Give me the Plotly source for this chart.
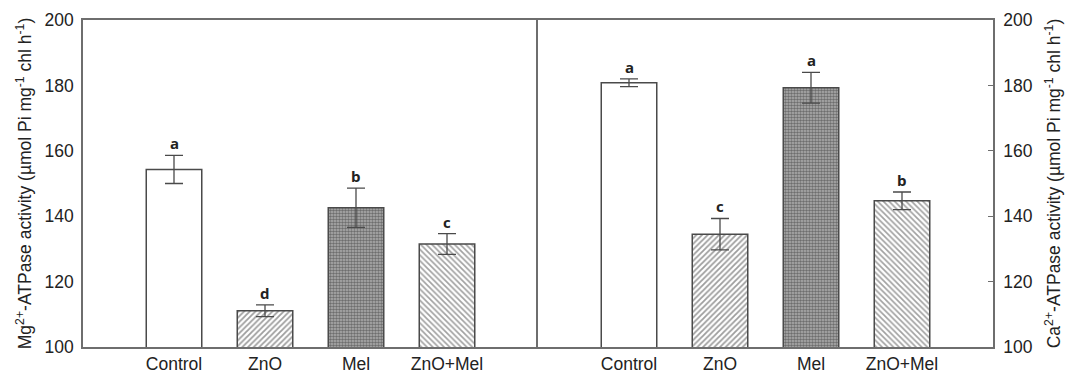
import plotly.graph_objects as go

categories = ["Control", "ZnO", "Mel", "ZnO+Mel"]
mg_values = [154.3, 111.1, 142.6, 131.5]
mg_errors = [4.3, 1.8, 6.0, 3.2]
mg_letters = ["a", "d", "b", "c"]
ca_values = [180.8, 134.5, 179.3, 144.7]
ca_errors = [1.2, 4.8, 4.7, 2.7]
ca_letters = ["a", "c", "a", "b"]
y_ticks = [100, 120, 140, 160, 180, 200]

pattern_shapes = ["", "/", ".", "\\"]
pattern_fg = ["#ffffff", "#3c3c3c", "#2b2b2b", "#444444"]
pattern_bg = ["#ffffff", "#ffffff", "#b0b0b0", "#ffffff"]
pattern_size = [6, 4, 3, 4]
pattern_solidity = [0.2, 0.45, 0.55, 0.42]

LINE = "#6e6e6e"
TXT = "#222222"
FONT = "Liberation Sans, Arial, sans-serif"

fig = go.Figure()

def add_panel(values, errors, xa, ya):
    fig.add_trace(go.Bar(
        x=categories, y=values, xaxis=xa, yaxis=ya, width=0.61,
        base=0,
        marker=dict(
            color="#ffffff",
            line=dict(color="#4a4a4a", width=1.5),
            pattern=dict(shape=pattern_shapes, fgcolor=pattern_fg, bgcolor=pattern_bg,
                         size=pattern_size, solidity=pattern_solidity, fillmode="overlay"),
        ),
        error_y=dict(type="data", array=errors, visible=True, color="#4a4a4a",
                     thickness=1.3, width=9),
        showlegend=False,
    ))

add_panel(mg_values, mg_errors, "x", "y")
add_panel(ca_values, ca_errors, "x2", "y2")

annotations = []
for xa, ya, vals, errs, letters in [("x", "y", mg_values, mg_errors, mg_letters),
                                    ("x2", "y2", ca_values, ca_errors, ca_letters)]:
    for c, v, e, l in zip(categories, vals, errs, letters):
        annotations.append(dict(x=c, y=v + e, xref=xa, yref=ya, text="<b>%s</b>" % l,
                                showarrow=False, yanchor="bottom", yshift=0,
                                font=dict(family="Open Sans, sans-serif", size=15, color=TXT)))

axis_common = dict(showline=True, linecolor=LINE, linewidth=1.6,
                   showgrid=False, zeroline=False, automargin=False)

fig.update_layout(
    width=1067, height=374,
    margin=dict(l=83, r=74, t=20, b=27),
    paper_bgcolor="white", plot_bgcolor="white",
    font=dict(family=FONT, size=17.5, color=TXT),
    annotations=annotations,
    xaxis=dict(domain=[0, 0.5], anchor="y", type="category", range=[-1, 4], mirror=True,
               ticks="", tickfont=dict(size=17.5), **axis_common),
    xaxis2=dict(domain=[0.5, 1], anchor="y2", type="category", range=[-1, 4], mirror=True,
                ticks="", tickfont=dict(size=17.5), **axis_common),
    yaxis=dict(domain=[0, 1], anchor="x", range=[100, 200], tickvals=y_ticks, mirror=False,
               ticks="", ticklabelstandoff=4,
               title=dict(text="Mg<sup>2+</sup>-ATPase activity (µmol Pi mg<sup>-1</sup> chl h<sup>-1</sup>)",
                          font=dict(size=17.5), standoff=8),
               **axis_common),
    yaxis2=dict(domain=[0, 1], anchor="x2", side="right", range=[100, 200], tickvals=y_ticks,
                mirror=True, ticks="inside", ticklen=5, tickcolor=LINE, ticklabelstandoff=5,
                title=dict(text="Ca<sup>2+</sup>-ATPase activity (µmol Pi mg<sup>-1</sup> chl h<sup>-1</sup>)",
                           font=dict(size=17.5), standoff=16),
                **axis_common),
)

fig.write_html("out.html", config={"displayModeBar": False},
               post_script="document.body.style.margin='0';document.body.style.overflow='hidden';")
